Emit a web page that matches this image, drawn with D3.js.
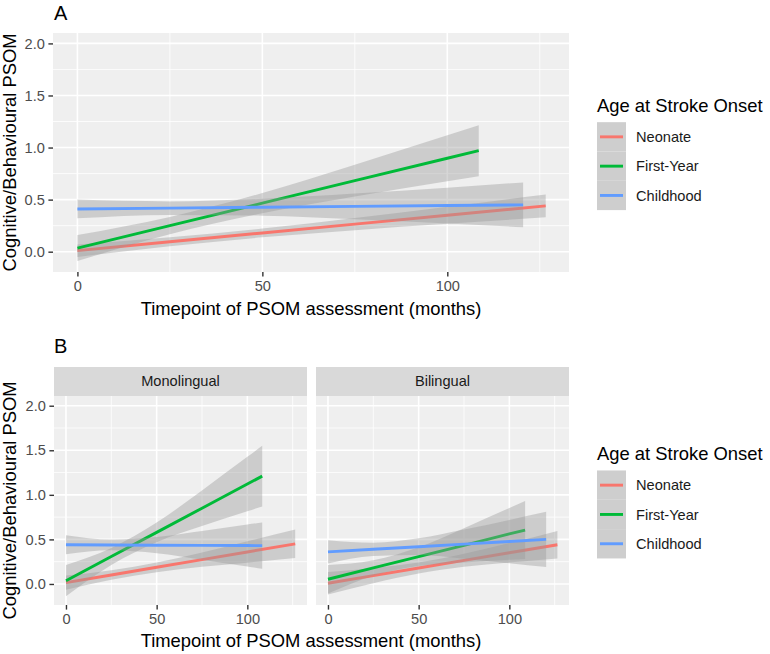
<!DOCTYPE html>
<html>
<head>
<meta charset="utf-8">
<script src="https://cdn.jsdelivr.net/npm/d3@7"></script>
<style>
  html, body { margin: 0; padding: 0; background: #ffffff; }
  svg { display: block; font-family: "Liberation Sans", Arial, sans-serif; }
</style>
</head>
<body>
<svg id="chart" width="770" height="654"></svg>
<script>
// ---------------- data ----------------
const groups = ["Neonate", "First-Year", "Childhood"];
const groupColors = ["#F8766D", "#00BA38", "#619CFF"];
const facets = ["Monolingual", "Bilingual"];
const xTicks = [0, 50, 100];
const xMinorTicks = [25, 75, 125];
const yTicks = [0, 0.5, 1, 1.5, 2];
const yTickLabels = ["0.0", "0.5", "1.0", "1.5", "2.0"];
const yMinorTicks = [0.25, 0.75, 1.25, 1.75];
const panelLabels = ["A", "B"];
const xTitle = "Timepoint of PSOM assessment (months)";
const yTitle = "Cognitive/Behavioural PSOM";
const legendTitle = "Age at Stroke Onset";

// rows: [months, fitted, lower CI, upper CI]
// Panel A (all participants)
const A_Neonate   = [[0,0.010,-0.050,0.070],[25,0.095,0.052,0.138],[50,0.180,0.138,0.222],[75,0.265,0.207,0.323],[100,0.350,0.268,0.432],[126.6,0.440,0.330,0.550]];
const A_FirstYear = [[0,0.035,-0.090,0.160],[25,0.251,0.168,0.334],[50,0.466,0.369,0.563],[75,0.682,0.529,0.835],[100,0.897,0.676,1.118],[108.5,0.970,0.725,1.215]];
const A_Childhood = [[0,0.410,0.320,0.500],[25,0.418,0.353,0.483],[50,0.427,0.346,0.508],[75,0.435,0.312,0.558],[100,0.443,0.271,0.615],[120.5,0.450,0.235,0.665]];
// Panel B, Monolingual
const Mono_Neonate   = [[0,0.015,-0.065,0.095],[25,0.101,0.047,0.155],[50,0.187,0.132,0.242],[75,0.273,0.192,0.354],[100,0.359,0.239,0.479],[126.4,0.450,0.290,0.610]];
const Mono_FirstYear = [[0,0.037,-0.138,0.212],[25,0.308,0.213,0.403],[50,0.579,0.469,0.689],[75,0.850,0.650,1.050],[100,1.121,0.816,1.426],[108.2,1.210,0.870,1.550]];
const Mono_Childhood = [[0,0.440,0.333,0.547],[25,0.438,0.377,0.499],[50,0.435,0.344,0.526],[75,0.433,0.273,0.593],[100,0.431,0.196,0.666],[108.2,0.430,0.170,0.690]];
// Panel B, Bilingual
const Bi_Neonate   = [[0,0.008,-0.117,0.133],[25,0.094,0.009,0.179],[50,0.179,0.118,0.240],[75,0.265,0.192,0.338],[100,0.350,0.241,0.459],[126.5,0.440,0.285,0.595]];
const Bi_FirstYear = [[0,0.053,-0.107,0.213],[25,0.180,0.093,0.267],[50,0.307,0.201,0.413],[75,0.434,0.242,0.626],[100,0.561,0.271,0.851],[108.7,0.605,0.280,0.930]];
const Bi_Childhood = [[0,0.360,0.230,0.490],[25,0.389,0.315,0.463],[50,0.418,0.324,0.512],[75,0.447,0.283,0.611],[100,0.476,0.233,0.719],[120.3,0.500,0.190,0.810]];

// ---------------- drawing ----------------
const svg = d3.select("#chart");
svg.append("rect").attr("width", 770).attr("height", 654).attr("fill", "#ffffff");

const X_DOMAIN = [-6.6, 132.9];
const PANEL_BG = "#EFEFEF";

function drawPanel(opts) {
  const { x0, x1, y0, y1, yDomain, series, showYAxis } = opts;
  const x = d3.scaleLinear().domain(X_DOMAIN).range([x0, x1]);
  const y = d3.scaleLinear().domain(yDomain).range([y1, y0]);
  const g = svg.append("g");

  g.append("rect").attr("x", x0).attr("y", y0).attr("width", x1 - x0).attr("height", y1 - y0).attr("fill", PANEL_BG);

  // minor grid
  g.selectAll(".gxm").data(xMinorTicks.filter(v => v >= X_DOMAIN[0] && v <= X_DOMAIN[1])).enter().append("line")
    .attr("x1", d => x(d)).attr("x2", d => x(d)).attr("y1", y0).attr("y2", y1)
    .attr("stroke", "#ffffff").attr("stroke-width", 0.8);
  g.selectAll(".gym").data(yMinorTicks.filter(v => v >= yDomain[0] && v <= yDomain[1])).enter().append("line")
    .attr("x1", x0).attr("x2", x1).attr("y1", d => y(d)).attr("y2", d => y(d))
    .attr("stroke", "#ffffff").attr("stroke-width", 0.8);
  // major grid
  g.selectAll(".gx").data(xTicks).enter().append("line")
    .attr("x1", d => x(d)).attr("x2", d => x(d)).attr("y1", y0).attr("y2", y1)
    .attr("stroke", "#ffffff").attr("stroke-width", 1.6);
  g.selectAll(".gy").data(yTicks).enter().append("line")
    .attr("x1", x0).attr("x2", x1).attr("y1", d => y(d)).attr("y2", d => y(d))
    .attr("stroke", "#ffffff").attr("stroke-width", 1.6);

  const area = d3.area()
    .x(d => x(d[0])).y0(d => y(d[2])).y1(d => y(d[3]))
    .curve(d3.curveMonotoneX);
  const line = d3.line().x(d => x(d[0])).y(d => y(d[1]));

  series.forEach((s, i) => {
    g.append("path").datum(s).attr("d", area).attr("fill", "#999999").attr("fill-opacity", 0.4);
    g.append("path").datum(s).attr("d", line).attr("fill", "none")
      .attr("stroke", groupColors[i]).attr("stroke-width", 2.9);
  });

  // x axis
  const xa = g.append("g").attr("transform", `translate(0,${y1})`)
    .call(d3.axisBottom(x).tickValues(xTicks).tickSizeInner(4.6).tickSizeOuter(0).tickPadding(3.6));
  xa.select(".domain").remove();
  xa.selectAll(".tick line").attr("stroke", "#333333").attr("stroke-width", 1.4);
  xa.selectAll(".tick text").attr("fill", "#4D4D4D").attr("font-size", "14.6px")
    .attr("font-family", "Liberation Sans, Arial, sans-serif");

  if (showYAxis) {
    const ya = g.append("g").attr("transform", `translate(${x0},0)`)
      .call(d3.axisLeft(y).tickValues(yTicks).tickFormat((d, i) => yTickLabels[i])
        .tickSizeInner(4.6).tickSizeOuter(0).tickPadding(3.6));
    ya.select(".domain").remove();
    ya.selectAll(".tick line").attr("stroke", "#333333").attr("stroke-width", 1.4);
    ya.selectAll(".tick text").attr("fill", "#4D4D4D").attr("font-size", "14.6px")
      .attr("font-family", "Liberation Sans, Arial, sans-serif");
  }
  return { x, y };
}

function drawLegend(left, titleBaseline, keyTop) {
  const g = svg.append("g");
  g.append("text").attr("x", left).attr("y", titleBaseline).attr("font-size", "18.4px")
    .attr("fill", "#000000").text(legendTitle);
  const keyH = 29.3, keyW = 29;
  groups.forEach((name, i) => {
    const ky = keyTop + i * keyH;
    g.append("rect").attr("x", left).attr("y", ky).attr("width", keyW).attr("height", keyH)
      .attr("fill", "#F2F2F2");
    g.append("rect").attr("x", left).attr("y", ky).attr("width", keyW).attr("height", keyH)
      .attr("fill", "#999999").attr("fill-opacity", 0.4);
    g.append("line").attr("x1", left + 3).attr("x2", left + keyW - 3)
      .attr("y1", ky + keyH / 2).attr("y2", ky + keyH / 2)
      .attr("stroke", groupColors[i]).attr("stroke-width", 2.9);
    g.append("text").attr("x", left + 39).attr("y", ky + keyH / 2 + 5.3)
      .attr("font-size", "14.6px").attr("fill", "#1A1A1A").text(name);
  });
}

// ---- Panel A ----
svg.append("text").attr("x", 54).attr("y", 20).attr("font-size", "20px").attr("fill", "#000").text(panelLabels[0]);
drawPanel({ x0: 53, x1: 569, y0: 33, y1: 272, yDomain: [-0.195, 2.10],
  series: [A_Neonate, A_FirstYear, A_Childhood], showYAxis: true });
svg.append("text").attr("x", 311).attr("y", 315).attr("text-anchor", "middle")
  .attr("font-size", "18.4px").attr("fill", "#000").text(xTitle);
svg.append("text").attr("transform", "translate(16,152.5) rotate(-90)").attr("text-anchor", "middle")
  .attr("font-size", "18.4px").attr("fill", "#000").text(yTitle);
drawLegend(597, 111.5, 122.2);

// ---- Panel B ----
svg.append("text").attr("x", 54).attr("y", 353).attr("font-size", "20px").attr("fill", "#000").text(panelLabels[1]);
const facetX = [[54, 307], [316, 569]];
const facetSeries = [[Mono_Neonate, Mono_FirstYear, Mono_Childhood], [Bi_Neonate, Bi_FirstYear, Bi_Childhood]];
facets.forEach((f, i) => {
  const [fx0, fx1] = facetX[i];
  svg.append("rect").attr("x", fx0).attr("y", 367).attr("width", fx1 - fx0).attr("height", 29).attr("fill", "#D9D9D9");
  svg.append("text").attr("x", (fx0 + fx1) / 2).attr("y", 386.3).attr("text-anchor", "middle")
    .attr("font-size", "14.6px").attr("fill", "#1A1A1A").text(f);
  drawPanel({ x0: fx0, x1: fx1, y0: 396, y1: 605, yDomain: [-0.236, 2.109],
    series: facetSeries[i], showYAxis: i === 0 });
});
svg.append("text").attr("x", 311).attr("y", 647).attr("text-anchor", "middle")
  .attr("font-size", "18.4px").attr("fill", "#000").text(xTitle);
svg.append("text").attr("transform", "translate(16,500.5) rotate(-90)").attr("text-anchor", "middle")
  .attr("font-size", "18.4px").attr("fill", "#000").text(yTitle);
drawLegend(597, 460, 470.5);
</script>
</body>
</html>
